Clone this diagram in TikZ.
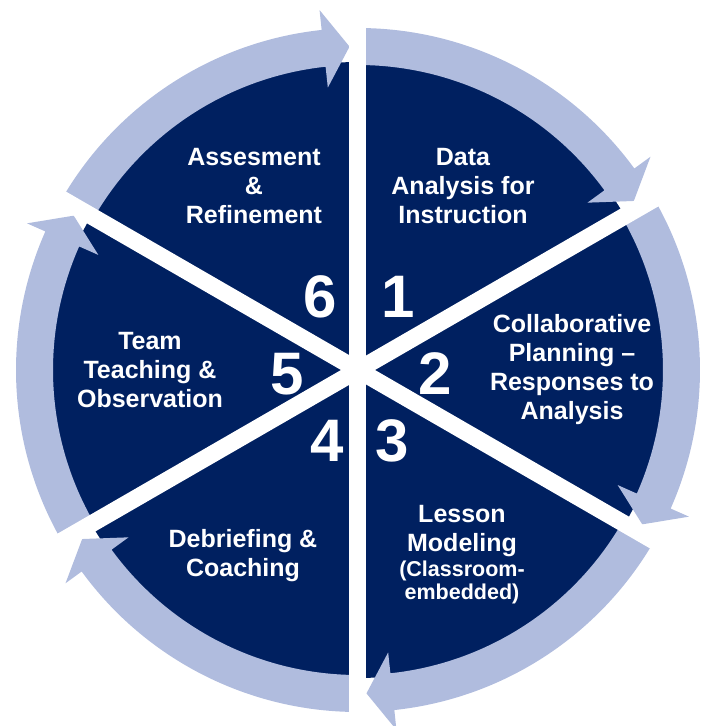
\documentclass[tikz,border=0pt]{standalone}
\usepackage{fontspec}
\setmainfont{Liberation Sans}
\definecolor{navy}{RGB}{0,32,96}
\definecolor{ringc}{RGB}{176,188,222}
\tikzset{
  lbl/.style={text=white, font=\bfseries\fontsize{25}{29}\selectfont, align=center, inner sep=0pt},
  num/.style={text=white, font=\bfseries\fontsize{60}{60}\selectfont, inner sep=0pt},
  divider/.style={white, line width=17pt},
  ringarrow/.style={fill=ringc}
}
\begin{document}
\begin{tikzpicture}[x=1pt,y=1pt]
\useasboundingbox (-358,-356) rectangle (351,370);
\fill[navy] (0,0) circle[radius=308];
\foreach \s in {90,30,-30,-90,-150,-210} {
  \pgfmathsetmacro\t{\s-58.5}
  \pgfmathsetmacro\b{\s-53.9}
  \fill[ringarrow] (\s:342) arc[start angle=\s, end angle=\b, radius=342]
    -- (\b:362) -- (\t:323.5) -- (\b:284) -- (\b:305)
    arc[start angle=\b, end angle=\s, radius=305] -- cycle;
}
\draw[divider] (90:372) -- (270:372);
\draw[divider] (30:372) -- (210:372);
\draw[divider] (150:372) -- (330:372);

\node[lbl] (t1) at (105,184) {Data\\Analysis for\\Instruction};
\node[lbl] (t6) at (-104,184) {Assesment\\\&\\Refinement};
\node[lbl] (t2) at (214,0) {Collaborative\\Planning –\\Responses to\\Analysis};
\node[lbl] (t5) at (-208,0) {Team\\Teaching \&\\Observation};
\node[lbl] (t4) at (-115,-186) {Debriefing \&\\Coaching};
\node[lbl] (t3) at (104,-185) {Lesson\\Modeling\\[-4pt]{\fontsize{21.5}{24}\selectfont (Classroom-}\\[-6pt]{\fontsize{21.5}{24}\selectfont embedded)}};

\node[num] (n6) at (-38,73) {6};
\node[num] (n1) at (40,73) {1};
\node[num] (n5) at (-71,-4) {5};
\node[num] (n2) at (77,-4) {2};
\node[num] (n4) at (-31,-71) {4};
\node[num] (n3) at (34,-71) {3};
\end{tikzpicture}
\end{document}
